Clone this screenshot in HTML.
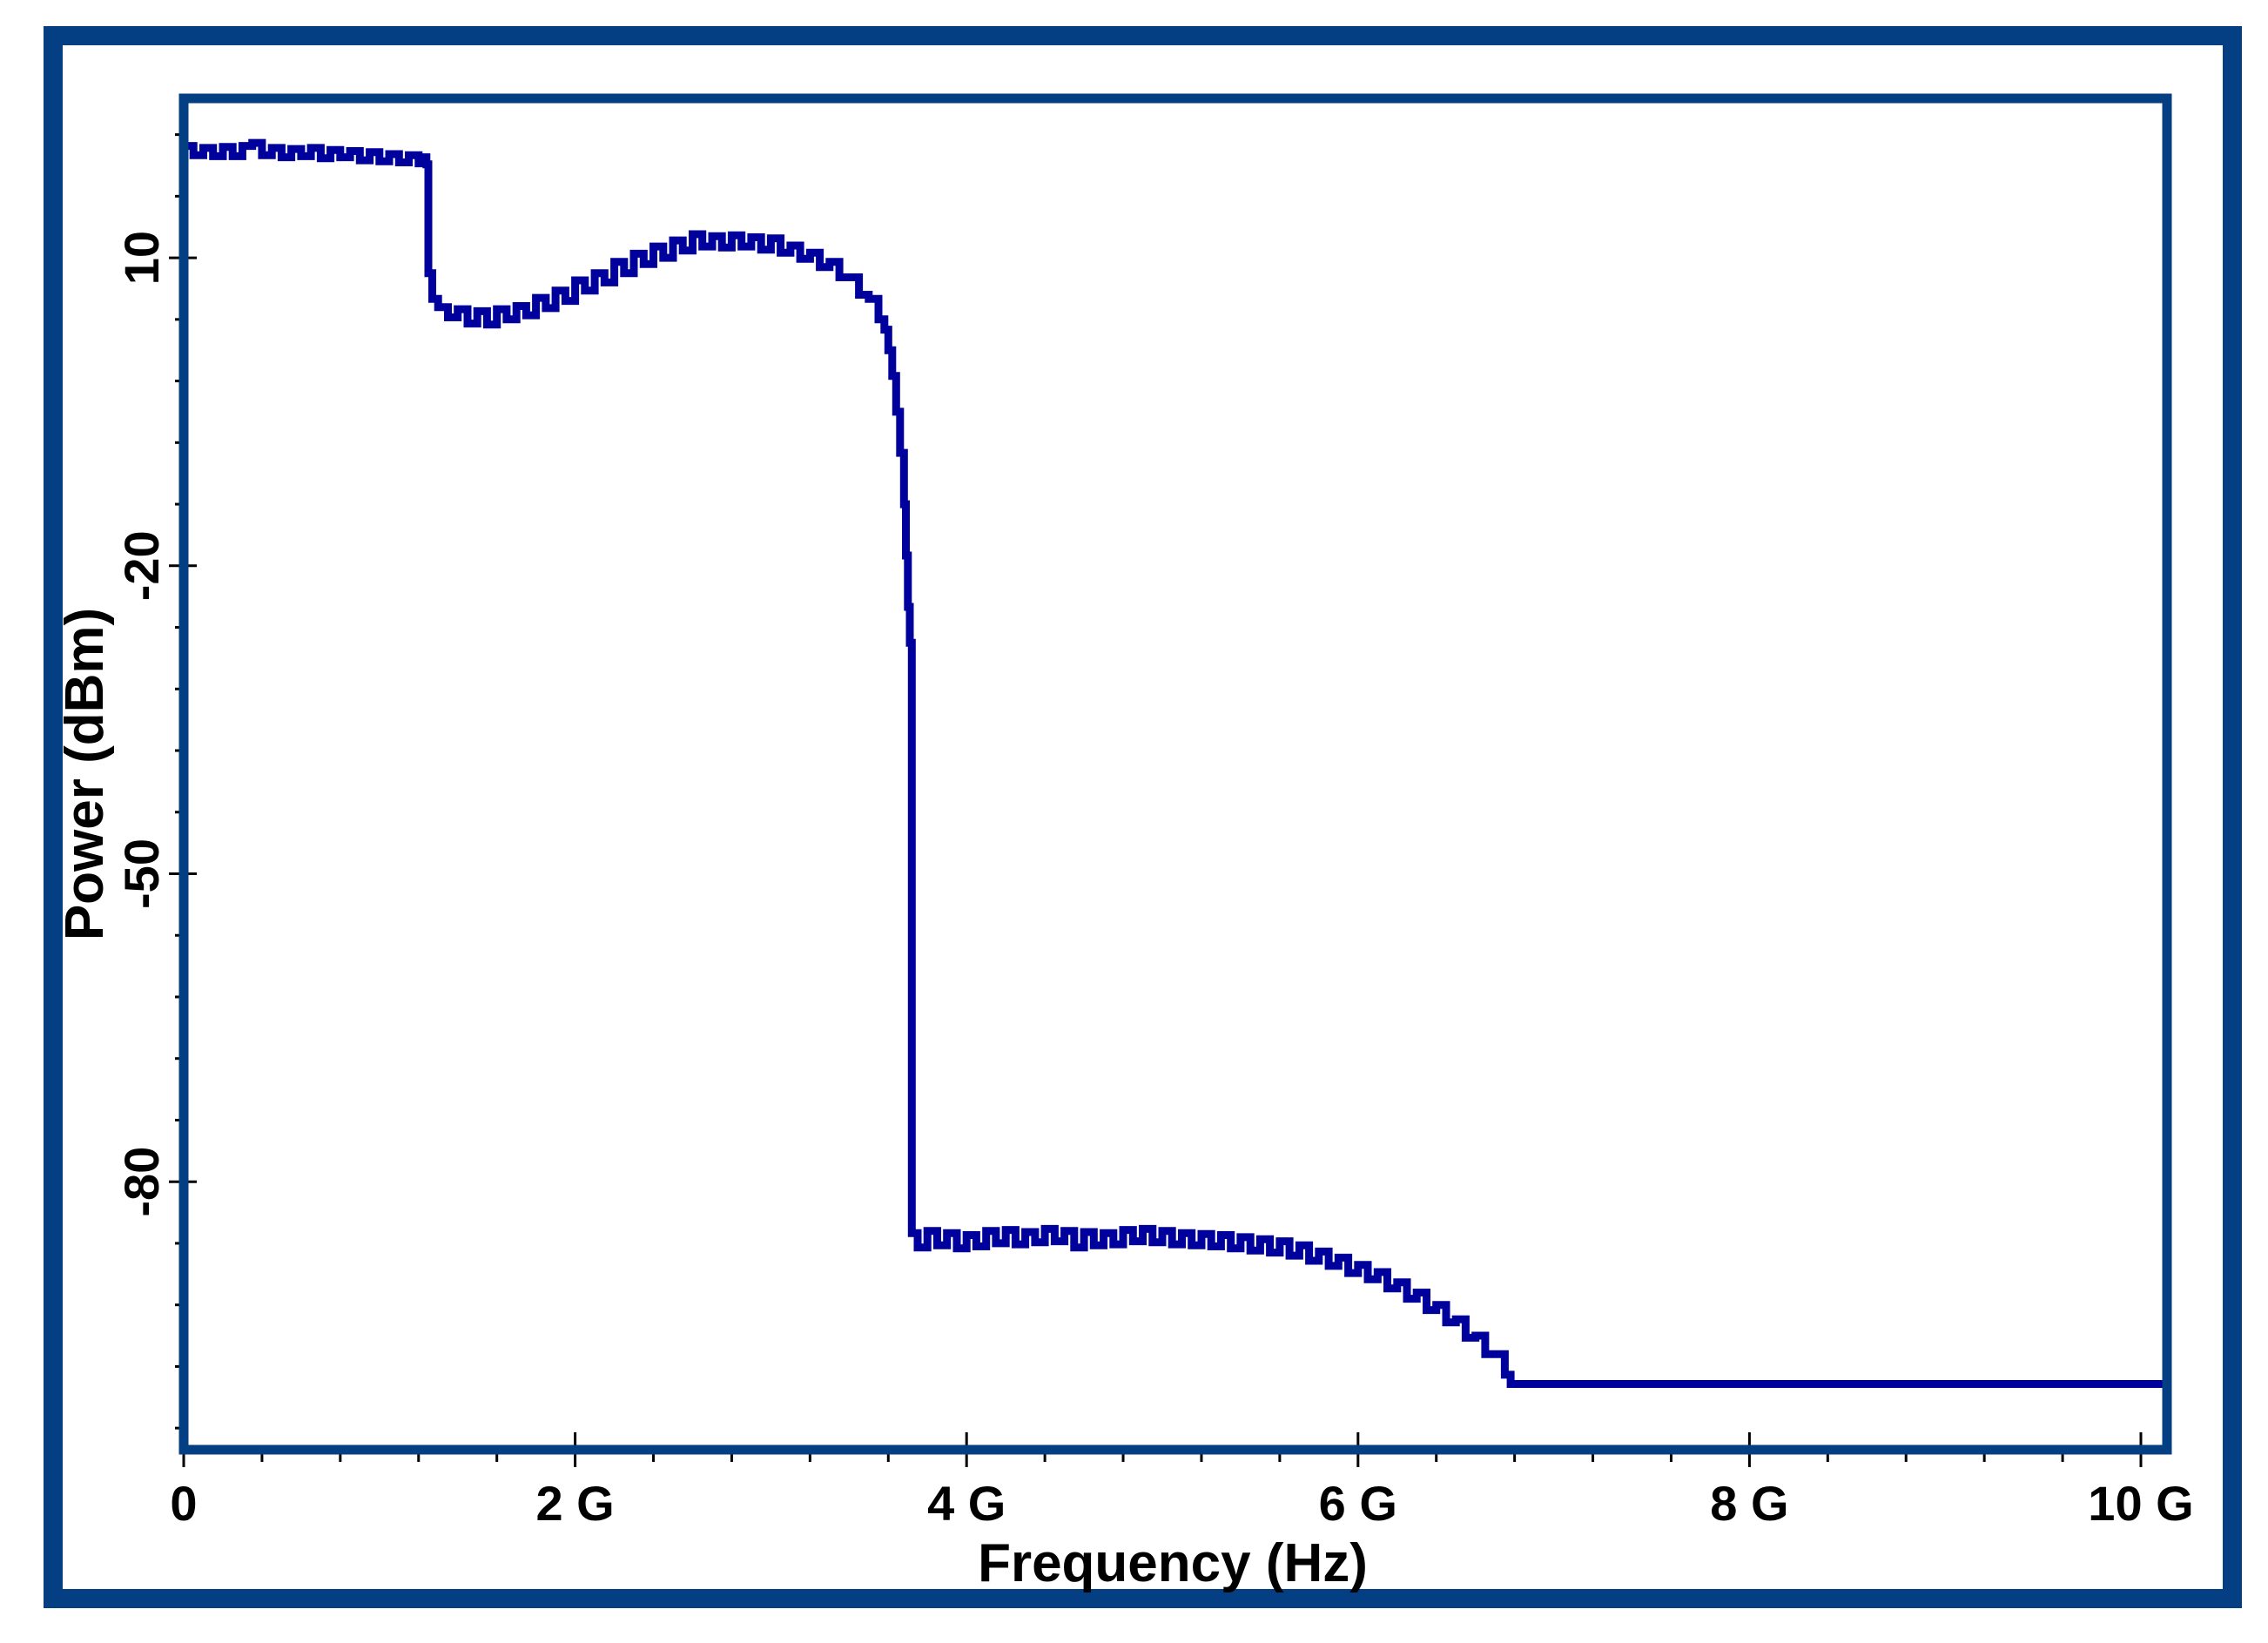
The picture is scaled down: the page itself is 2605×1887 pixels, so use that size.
<!DOCTYPE html>
<html><head><meta charset="utf-8"><style>
html,body{margin:0;padding:0;background:#fff;}
svg{display:block;font-family:"Liberation Sans",Arial,sans-serif;}
</style></head><body>
<svg id="chart" width="2605" height="1887" viewBox="0 0 2605 1887" xmlns="http://www.w3.org/2000/svg">
<rect x="61" y="41" width="2503" height="1795" fill="none" stroke="#033f82" stroke-width="22"/>
<g id="ticks"></g>
<g id="plot"></g>
<rect x="211" y="113" width="2278" height="1552" fill="none" stroke="#033f82" stroke-width="11"/>
<g id="labels"></g>
<text x="1347" y="1816" text-anchor="middle" font-size="62" font-weight="bold" fill="#000">Frequency (Hz)</text>
<text transform="translate(118,889) rotate(-90)" text-anchor="middle" font-size="62" font-weight="bold" fill="#000">Power (dBm)</text>
</svg>
<script>
const freqGHz = [0.00,0.05,0.10,0.15,0.20,0.25,0.30,0.35,0.40,0.45,0.50,0.55,0.60,0.65,0.70,0.75,0.80,0.85,0.90,0.95,1.00,1.05,1.10,1.15,1.20,1.23,1.24,1.25,1.27,1.30,1.35,1.40,1.45,1.50,1.55,1.60,1.65,1.70,1.75,1.80,1.85,1.90,1.95,2.00,2.05,2.10,2.15,2.20,2.25,2.30,2.35,2.40,2.45,2.50,2.55,2.60,2.65,2.70,2.75,2.80,2.85,2.90,2.95,3.00,3.05,3.10,3.15,3.20,3.25,3.30,3.35,3.40,3.45,3.50,3.55,3.58,3.60,3.62,3.64,3.66,3.68,3.69,3.70,3.71,3.72,3.75,3.80,3.85,3.90,3.95,4.00,4.05,4.10,4.15,4.20,4.25,4.30,4.35,4.40,4.45,4.50,4.55,4.60,4.65,4.70,4.75,4.80,4.85,4.90,4.95,5.00,5.05,5.10,5.15,5.20,5.25,5.30,5.35,5.40,5.45,5.50,5.55,5.60,5.65,5.70,5.75,5.80,5.85,5.90,5.95,6.00,6.05,6.10,6.15,6.20,6.25,6.30,6.35,6.40,6.45,6.50,6.55,6.60,6.65,6.70,6.75,6.78,10.15];
const powerDbm = [20.9,20.0,20.7,19.9,20.8,19.9,20.9,21.2,20.0,20.7,19.8,20.6,19.9,20.7,19.7,20.5,19.8,20.4,19.5,20.3,19.4,20.1,19.3,20.0,19.2,19.8,19.1,8.5,6.0,5.2,4.2,5.0,3.6,4.8,3.5,5.0,4.0,5.3,4.4,6.1,5.1,6.8,5.8,7.8,6.8,8.5,7.6,9.6,8.5,10.4,9.4,11.1,10.0,11.7,10.7,12.3,11.1,12.1,11.0,12.2,11.1,12.0,10.8,11.9,10.5,11.2,9.9,10.5,9.1,9.6,8.1,8.1,6.4,6.0,4.0,3.0,1.0,-1.5,-5.0,-9.0,-14.0,-19.0,-24.0,-27.5,-85.0,-86.4,-84.8,-86.2,-85.0,-86.5,-85.2,-86.3,-84.8,-86.0,-84.7,-86.1,-84.9,-85.9,-84.6,-85.8,-84.8,-86.4,-84.9,-86.2,-85.0,-86.1,-84.7,-85.8,-84.6,-85.9,-84.8,-86.1,-85.0,-86.2,-85.1,-86.3,-85.2,-86.5,-85.4,-86.7,-85.6,-86.9,-85.8,-87.2,-86.2,-87.7,-86.8,-88.2,-87.4,-88.9,-88.1,-89.5,-88.8,-90.4,-89.8,-91.4,-90.8,-92.5,-92.0,-93.7,-93.4,-95.2,-95.0,-96.8,-96.8,-98.8,-99.7,-99.7];
const xTickValues = [0,2,4,6,8,10];
const xTickLabels = ["0","2 G","4 G","6 G","8 G","10 G"];
const yTickValues = [10,-20,-50,-80];
const yTickLabels = ["10","-20","-50","-80"];

const NS = "http://www.w3.org/2000/svg";
function xScale(g){ return 211 + 224.8 * g; }
function yScale(d){ return 414 - 11.79 * d; }
function mk(tag, attrs, parent){
  const e = document.createElementNS(NS, tag);
  for (const k in attrs) e.setAttribute(k, attrs[k]);
  parent.appendChild(e);
  return e;
}
const ticks = document.getElementById('ticks');
const labels = document.getElementById('labels');
const plot = document.getElementById('plot');

for (let i = 0; i <= 25; i++) {
  const g = i * 0.4;
  const x = xScale(g);
  const major = i % 5 === 0;
  const t = mk('line', {x1:x, x2:x, y1: major ? 1645 : 1665, y2: major ? 1685 : 1679, stroke:'#000', 'stroke-width':3}, ticks);
  
  
}
xTickValues.forEach((v, i) => {
  const t = mk('text', {x: xScale(v), y: 1746, 'text-anchor':'middle', 'font-size':56, 'font-weight':'bold', fill:'#000'}, labels);
  t.textContent = xTickLabels[i];
  
  
});
for (let d = 22; d >= -104; d -= 6) {
  const y = yScale(d);
  const major = yTickValues.indexOf(d) >= 0;
  const t = mk('line', {x1: major ? 194 : 201, x2: major ? 226 : 211, y1:y, y2:y, stroke:'#000', 'stroke-width':3}, ticks);
  
  
}
yTickValues.forEach((v, i) => {
  const y = yScale(v);
  const t = mk('text', {transform:'translate(182,' + y + ') rotate(-90)', 'text-anchor':'middle', 'font-size':56, 'font-weight':'bold', fill:'#000'}, labels);
  t.textContent = yTickLabels[i];
  
  
});
let d = '';
for (let i = 0; i < freqGHz.length; i++) {
  const x = xScale(freqGHz[i]).toFixed(1), y = yScale(powerDbm[i]).toFixed(1);
  if (i === 0) d += 'M' + x + ' ' + y;
  else d += ' H' + x + ' V' + y;
}
const tr = mk('path', {d: d, fill:'none', stroke:'#00009c', 'stroke-width':9, 'stroke-linejoin':'miter'}, plot);


</script>
</body></html>
